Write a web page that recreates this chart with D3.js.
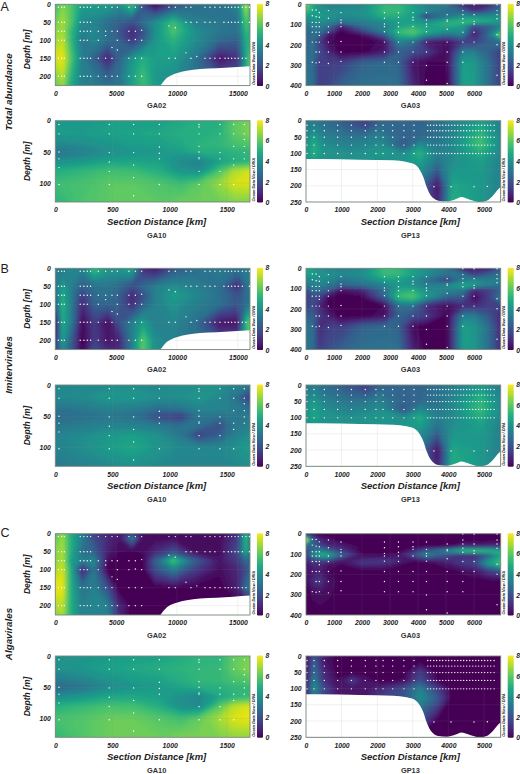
<!DOCTYPE html>
<html>
<head>
<meta charset="utf-8">
<script src="https://cdn.jsdelivr.net/npm/d3@7"></script>
<style>
  html, body { margin: 0; background: #fff; }
  svg { display: block; }
  text { font-family: "Liberation Sans", Arial, sans-serif; fill: #1c1c1c; }
  .tick text { font-size: 6.8px; font-weight: bold; font-style: italic; }
  .axis-title { font-size: 9.5px; font-weight: bold; font-style: italic; }
  .depth-title { font-size: 8.5px; font-weight: bold; font-style: italic; }
  .section { font-size: 7.4px; font-weight: bold; fill: #333; }
  .group-title { font-size: 9.8px; font-weight: bold; font-style: italic; }
  .letter { font-size: 12.5px; }
  .odv { font-size: 3.9px; font-weight: bold; font-style: italic; }
</style>
</head>
<body>
<svg width="520" height="774"></svg>
<script>
const svg = d3.select("svg");

//////////// DATA ////////////

const letters = ["A", "B", "C"];
const groupNames = ["Total abundance", "Imitervirales", "Algavirales"];
const colourTicks = [0, 2, 4, 6, 8];

// section axes
const ga02Ticks = [0, 5000, 10000, 15000];
const ga03Ticks = [0, 1000, 2000, 3000, 4000, 5000, 6000];
const ga10Ticks = [0, 500, 1000, 1500];
const gp13Ticks = [0, 1000, 2000, 3000, 4000, 5000];
const ga02DepthTicks = [0, 50, 100, 150, 200];
const ga03DepthTicks = [0, 100, 200, 300, 400];
const ga10DepthTicks = [0, 50, 100];
const gp13DepthTicks = [0, 50, 100, 150, 200, 250];

// grid columns (km) and rows (m) of each section
const ga02Cols = [0, 600, 1300, 2200, 3200, 4300, 5200, 6300, 7200, 8200, 9700, 11500, 13500, 15000, 15700, 16000];
const ga02Rows = [0, 10, 50, 75, 100, 150, 200, 226];
const ga03Cols = [0, 225, 476, 800, 1250, 2000, 2800, 3300, 3820, 4300, 5040, 5600, 6000, 6500, 6950];
const ga03Rows = [0, 30, 60, 85, 105, 135, 150, 185, 235, 285, 400];
const ga10Cols = [0, 250, 470, 685, 910, 1100, 1257, 1440, 1560, 1703];
const ga10Rows = [0, 20, 40, 50, 65, 80, 100, 130];
const gp13Cols = [0, 225, 500, 900, 1300, 1665, 2100, 2750, 3200, 3700, 4100, 4900, 5470];
const gp13Rows = [0, 14, 50, 75, 100, 130, 200, 250];

// seafloor outlines [km, m]
const ga02Floor = [[8630, 226], [8880, 215], [9150, 205], [9560, 197], [9970, 192], [10790, 185], [11890, 180], [13260, 178], [14630, 175], [16000, 172]];
const gp13Floor = [[0, 118], [393, 118], [1517, 120], [2453, 122], [2828, 127], [3062, 135], [3202, 152], [3296, 173], [3390, 204], [3483, 226], [3577, 238], [3717, 246], [3951, 248], [4185, 242], [4373, 235], [4513, 239], [4700, 246], [4888, 250], [5075, 246], [5262, 229], [5375, 214], [5470, 204]];

// sample positions: [depth, stations]
const ga02Samples = [
  [8, [250, 520, 740, 2050, 2350, 2630, 2900, 3530, 4140, 4660, 5100, 6050, 6580, 7100, 9340, 9860, 10740, 11150, 12300, 12710, 13120, 13530, 13950, 14220, 14490, 14770, 15040, 15370, 15670, 15950]],
  [50, [250, 520, 740, 2050, 2350, 2630, 2900, 10740, 11150, 11630, 12300, 12710, 13120, 13860, 14220, 14490, 14770, 15040, 15370, 15950]],
  [75, [250, 520, 740, 2050, 2350, 2630, 2900, 3530, 4140, 4660, 5100, 6050, 6580]],
  [72, [7100]],
  [100, [250, 520, 740, 2050, 2350, 2630, 3530, 5100, 6050, 7100]],
  [98, [6580]],
  [87, [4140]],
  [120, [4660]],
  [127, [5100]],
  [60, [9340]],
  [65, [9860]],
  [135, [10740]],
  [145, [11630]],
  [150, [250, 520, 740, 2050, 2350, 2630, 2900, 3530, 4140, 4660, 6050, 6580, 7100, 9340, 9860, 11150, 12300, 12710, 13120, 13530, 13950, 14220, 14490, 14770, 15040, 15370, 15670]],
  [200, [250, 520, 740, 2050, 2350, 2630, 2900, 3530, 4140, 4660, 5100, 6050, 6580, 7100]],
];
// [station, depths]
const ga03Samples = [
  [225, [28, 56, 89, 110, 137, 186, 285]],
  [360, [28, 61, 89, 110, 137, 186, 235, 288]],
  [476, [40, 64, 89, 110, 137, 153, 186, 235, 285]],
  [800, [31, 69, 110, 137, 186, 235, 291]],
  [1250, [41, 77, 91, 110, 183, 235, 281]],
  [2800, [41, 69, 97, 110, 135, 186, 235, 285]],
  [3300, [41, 64, 91, 110, 137, 186, 235, 285]],
  [3820, [41, 64, 77, 110, 186, 235, 285]],
  [4300, [41, 77, 97, 110, 135, 186, 235, 301, 374]],
  [5040, [51, 77, 84, 123, 186, 235, 285, 390]],
  [5600, [2, 31, 51, 71, 91, 137, 186, 235, 285]],
  [6000, [2, 51, 84, 97, 137, 186]],
  [6820, [2, 31, 51, 71, 150, 199, 349]],
];
const ga10Samples = [
  [32, [6, 21, 50, 61, 75, 102]],
  [472, [6, 21, 51, 66, 81, 102]],
  [685, [6, 21, 51, 71, 91, 120]],
  [910, [6, 21, 42, 52, 61, 102]],
  [1257, [6, 10, 21, 41, 50, 59, 61, 81, 102]],
  [1440, [6, 21, 51, 61, 81, 102]],
  [1560, [6, 21, 41, 61, 71, 102]],
  [1653, [6, 21, 30, 41, 51, 61]],
];
const gp13Stations = [30, 225, 515, 890, 1275, 1665, 1965, 2165, 2435, 2750, 3035, 3420, 3500, 3590, 3670, 3760, 3840, 3930, 4010, 4095, 4180, 4265, 4350, 4430, 4515, 4600, 4685, 4770, 4850, 4935, 5020, 5105, 5190, 5285];
const gp13Depths = [14, 31, 51, 75, 101];
const gp13Deep = [[3595, 203], [4075, 203], [4720, 203], [5095, 202]];

// abundance grids, rows top to bottom
const totalGa02 = [
  [5.5, 6.5, 5.9, 4.5, 4.5, 4.5, 3.8, 5.4, 2.0, 0.3, 2.0, 2.8, 3.0, 3.5, 7.0, 5.0],
  [5.6, 6.6, 5.9, 4.4, 4.4, 4.3, 3.8, 5.2, 2.2, 0.8, 2.4, 3.0, 3.0, 3.5, 7.0, 5.0],
  [6.2, 7.0, 5.9, 3.8, 3.6, 3.0, 2.5, 2.0, 3.0, 4.0, 5.5, 3.5, 3.2, 3.0, 6.0, 5.0],
  [6.5, 7.0, 5.4, 3.5, 3.8, 3.0, 2.2, 1.0, 2.0, 4.0, 5.8, 4.0, 3.2, 3.0, 5.5, 5.0],
  [6.8, 7.3, 5.4, 3.2, 3.8, 3.0, 2.5, 1.3, 2.5, 4.2, 5.2, 4.0, 2.8, 2.5, 5.0, 5.0],
  [7.5, 7.8, 5.9, 3.5, 2.5, 0.8, 2.5, 4.2, 5.0, 4.5, 4.5, 3.2, 0.5, 1.2, 5.0, 6.0],
  [6.5, 7.2, 5.2, 3.5, 3.3, 2.5, 3.0, 4.6, 5.6, 4.3, 4.0, 3.0, 2.0, 2.0, 5.0, 6.0],
  [6.0, 6.8, 4.9, 3.5, 3.3, 3.0, 3.0, 4.5, 5.5, 4.5, 4.0, 3.0, 2.0, 2.0, 5.0, 6.0],
];
const imiterGa02 = [
  [3.5, 3.2, 3.8, 3.5, 5.2, 4.2, 4.2, 4.6, 1.2, 0.7, 2.2, 3.0, 3.3, 3.0, 3.4, 3.5],
  [3.5, 3.4, 3.8, 3.4, 5.2, 4.1, 4.1, 4.4, 1.4, 1.0, 2.4, 3.0, 3.3, 2.8, 3.4, 3.5],
  [3.2, 4.5, 3.5, 2.5, 3.0, 3.2, 2.8, 2.0, 2.8, 3.5, 4.0, 3.5, 3.0, 1.0, 3.0, 3.4],
  [3.0, 5.0, 3.5, 1.5, 2.8, 3.0, 2.5, 1.0, 2.0, 3.5, 4.5, 3.8, 3.0, 2.0, 3.0, 3.0],
  [2.5, 5.2, 3.5, 1.0, 2.6, 2.7, 2.5, 1.0, 2.5, 3.5, 4.2, 3.5, 3.0, 2.2, 3.0, 3.5],
  [0.3, 5.0, 3.5, 0.2, 1.5, 0.3, 2.0, 3.5, 4.5, 3.5, 3.7, 3.0, 0.5, 0.5, 5.5, 6.0],
  [1.0, 4.5, 2.5, 0.0, 1.5, 0.5, 0.8, 3.5, 6.0, 4.0, 3.5, 3.0, 2.0, 2.0, 5.0, 6.0],
  [1.5, 4.0, 2.5, 0.0, 2.0, 1.0, 1.0, 3.5, 6.0, 4.0, 3.5, 3.0, 2.0, 2.0, 5.0, 6.0],
];
const algaGa02 = [
  [5.8, 6.8, 5.0, 3.2, 1.5, 0.8, 0.5, 1.0, 0.3, 0.2, 0.2, 0.2, 0.2, 1.0, 5.0, 3.0],
  [6.0, 6.8, 5.0, 3.5, 1.8, 1.0, 0.5, 3.5, 0.4, 0.2, 0.3, 0.2, 0.3, 1.5, 5.5, 3.0],
  [6.5, 7.0, 5.0, 3.0, 2.5, 0.8, 0.2, 0.1, 0.3, 1.0, 2.0, 0.3, 0.3, 2.0, 5.0, 3.0],
  [6.5, 7.2, 4.5, 3.5, 3.8, 0.3, 0.0, 0.0, 0.0, 2.5, 5.8, 2.5, 0.5, 1.5, 3.0, 2.5],
  [7.0, 7.5, 5.0, 0.8, 3.2, 0.0, 0.0, 0.0, 0.0, 2.0, 3.5, 1.5, 0.3, 1.0, 2.0, 2.5],
  [7.8, 7.8, 5.0, 3.0, 3.5, 2.0, 0.0, 0.0, 0.0, 0.0, 0.1, 0.0, 0.0, 0.8, 3.2, 3.0],
  [7.0, 7.3, 5.0, 3.5, 3.8, 3.5, 1.0, 0.0, 0.0, 0.0, 0.0, 0.0, 0.0, 0.0, 0.0, 0.0],
  [6.5, 7.0, 5.0, 3.5, 3.5, 3.5, 1.0, 0.0, 0.0, 0.0, 0.0, 0.0, 0.0, 0.0, 0.0, 0.0],
];

const totalGa03 = [
  [6.5, 5.0, 4.0, 3.5, 3.5, 3.8, 5.2, 5.2, 4.5, 3.5, 3.2, 0.8, 0.8, 0.9, 2.5],
  [5.8, 4.8, 4.2, 4.0, 4.0, 4.0, 5.5, 5.5, 4.6, 4.0, 3.0, 2.5, 1.0, 2.0, 3.0],
  [4.2, 4.4, 4.5, 4.2, 3.8, 4.0, 5.0, 5.0, 4.5, 1.5, 3.2, 4.0, 4.0, 4.0, 4.2],
  [3.5, 4.0, 4.0, 3.8, 3.3, 3.5, 4.0, 4.5, 4.5, 4.0, 5.0, 5.5, 5.5, 5.0, 4.5],
  [3.0, 3.5, 3.5, 3.0, 1.0, 3.0, 3.5, 4.5, 5.0, 4.6, 5.0, 4.5, 2.0, 2.5, 3.5],
  [2.5, 3.0, 3.0, 2.0, 0.0, 1.5, 3.5, 5.5, 6.0, 5.0, 4.0, 4.0, 0.8, 2.5, 5.0],
  [2.5, 3.0, 2.5, 0.5, 0.0, 0.3, 2.5, 5.0, 5.5, 4.0, 3.0, 3.5, 0.7, 3.0, 6.5],
  [2.5, 3.0, 1.5, 0.3, 0.0, 0.0, 0.3, 3.5, 3.0, 0.7, 0.3, 1.5, 1.5, 2.5, 3.0],
  [2.8, 3.0, 2.0, 1.0, 0.0, 0.0, 0.7, 2.5, 2.0, 1.5, 0.2, 3.5, 3.5, 2.5, 1.5],
  [2.8, 3.0, 1.5, 1.5, 1.5, 2.5, 2.8, 2.6, 0.5, 0.2, 0.2, 4.5, 4.3, 3.0, 1.5],
  [3.0, 3.0, 1.5, 1.8, 2.5, 3.0, 3.0, 3.0, 1.0, 0.0, 0.0, 4.5, 4.5, 3.0, 1.5],
];
const imiterGa03 = [
  [5.0, 4.5, 4.0, 3.8, 3.5, 3.8, 5.5, 5.3, 4.5, 4.0, 3.2, 0.8, 0.8, 0.8, 2.2],
  [4.5, 4.5, 4.0, 4.0, 3.8, 4.0, 5.5, 5.4, 4.6, 4.0, 3.0, 3.0, 1.5, 2.5, 3.0],
  [3.5, 3.8, 4.0, 3.8, 3.0, 3.5, 4.5, 4.5, 4.0, 3.0, 1.5, 3.5, 4.0, 3.5, 3.5],
  [3.0, 3.5, 3.5, 3.2, 2.5, 3.0, 3.5, 4.3, 4.0, 3.5, 4.0, 4.8, 4.5, 3.5, 3.0],
  [2.0, 3.0, 3.0, 2.5, 0.5, 1.0, 3.0, 4.8, 5.0, 4.0, 3.5, 3.5, 1.0, 1.5, 2.5],
  [1.5, 2.0, 1.8, 0.5, 0.0, 0.3, 2.8, 5.5, 5.8, 4.5, 3.0, 2.5, 0.3, 1.5, 3.0],
  [1.5, 2.0, 1.5, 0.2, 0.0, 0.0, 2.0, 5.0, 5.5, 3.8, 2.0, 2.0, 0.3, 1.5, 3.5],
  [1.5, 2.0, 1.0, 0.2, 0.0, 0.0, 0.2, 3.0, 3.0, 1.0, 0.3, 1.0, 1.0, 1.5, 1.5],
  [2.5, 2.5, 1.5, 0.8, 0.0, 0.0, 0.5, 2.5, 2.0, 1.5, 0.0, 3.5, 3.5, 2.3, 1.0],
  [3.0, 3.0, 1.0, 1.5, 1.5, 2.5, 2.8, 2.5, 0.3, 0.0, 0.0, 4.5, 4.2, 3.0, 1.0],
  [3.0, 3.0, 1.5, 2.0, 2.5, 3.0, 3.0, 3.0, 0.8, 0.0, 0.0, 4.5, 4.3, 3.0, 1.0],
];
const algaGa03 = [
  [1.0, 0.5, 0.0, 0.0, 0.0, 0.0, 0.0, 0.0, 0.0, 0.0, 0.0, 0.0, 0.0, 0.0, 0.0],
  [8.0, 2.8, 1.0, 0.5, 0.0, 0.0, 0.0, 0.0, 0.0, 0.0, 0.0, 0.0, 0.0, 0.0, 0.0],
  [3.0, 2.5, 2.0, 1.0, 0.8, 0.0, 0.0, 0.0, 0.0, 0.0, 0.0, 1.0, 0.8, 1.0, 1.0],
  [1.5, 3.0, 3.8, 3.0, 1.5, 0.0, 0.0, 0.0, 1.0, 2.5, 4.0, 5.6, 5.8, 5.5, 5.0],
  [1.5, 3.5, 5.0, 5.0, 2.8, 0.3, 0.2, 0.5, 2.0, 3.8, 2.0, 1.0, 1.0, 2.5, 4.8],
  [1.0, 1.5, 1.5, 1.5, 0.5, 1.2, 1.5, 1.0, 0.2, 0.3, 1.0, 1.5, 1.5, 4.2, 5.4],
  [0.5, 1.0, 1.0, 0.5, 0.2, 1.1, 1.0, 0.3, 0.0, 0.0, 0.5, 1.3, 1.5, 4.2, 5.8],
  [0.5, 0.5, 0.8, 0.2, 0.0, 0.0, 0.0, 0.0, 0.0, 0.0, 0.0, 0.3, 0.5, 1.5, 2.0],
  [0.3, 1.0, 1.5, 0.5, 0.0, 0.0, 0.0, 0.0, 0.0, 0.0, 0.0, 0.0, 0.0, 0.0, 0.0],
  [0.0, 0.3, 0.5, 0.3, 0.0, 0.0, 0.0, 0.0, 0.0, 0.0, 0.0, 0.0, 0.0, 0.0, 0.0],
  [0.0, 0.0, 0.0, 0.0, 0.0, 0.0, 0.0, 0.0, 0.0, 0.0, 0.0, 0.0, 0.0, 0.0, 0.0],
];

const totalGa10 = [
  [4.3, 4.3, 4.5, 4.5, 4.5, 4.8, 5.0, 5.0, 6.0, 6.4],
  [4.5, 4.4, 4.6, 4.7, 4.8, 5.0, 5.0, 5.2, 6.0, 6.5],
  [3.6, 3.9, 4.2, 4.4, 4.5, 4.8, 5.2, 5.3, 5.6, 5.8],
  [3.1, 3.5, 4.0, 4.2, 4.3, 4.5, 5.0, 5.0, 5.2, 5.3],
  [4.0, 4.3, 4.7, 4.7, 4.6, 3.8, 3.6, 4.6, 5.0, 5.2],
  [5.0, 5.3, 5.6, 5.5, 5.0, 4.2, 4.0, 5.8, 7.0, 7.5],
  [5.5, 5.7, 6.0, 6.0, 5.8, 5.5, 6.0, 6.8, 7.5, 7.6],
  [5.2, 5.8, 6.0, 6.0, 6.0, 6.2, 6.2, 6.3, 6.5, 6.5],
];
const imiterGa10 = [
  [3.8, 3.8, 3.9, 3.9, 3.7, 3.9, 4.0, 4.0, 3.6, 3.3],
  [3.8, 3.9, 4.3, 4.3, 4.0, 4.0, 4.2, 3.8, 3.2, 1.5],
  [3.0, 3.2, 3.5, 3.3, 2.8, 3.0, 3.6, 3.6, 3.4, 3.0],
  [2.8, 3.0, 3.2, 3.0, 1.8, 1.5, 3.2, 3.0, 3.3, 3.3],
  [3.2, 3.4, 3.6, 3.6, 3.3, 3.0, 3.0, 2.0, 3.2, 3.5],
  [3.6, 3.9, 4.3, 4.5, 4.0, 3.2, 1.6, 2.5, 3.5, 4.0],
  [3.6, 4.0, 4.5, 4.8, 4.2, 3.8, 3.8, 3.8, 4.0, 4.5],
  [3.2, 3.5, 3.8, 4.0, 3.8, 3.6, 3.6, 3.6, 3.8, 4.0],
];
const algaGa10 = [
  [4.0, 4.2, 4.4, 4.5, 4.6, 4.9, 5.2, 5.2, 6.1, 6.4],
  [4.1, 4.3, 4.6, 4.8, 5.0, 5.2, 5.3, 5.4, 6.1, 6.6],
  [3.2, 3.6, 4.1, 4.4, 4.6, 5.0, 5.3, 5.4, 5.7, 5.9],
  [2.7, 3.2, 3.9, 4.2, 4.4, 4.7, 5.0, 5.1, 5.3, 5.4],
  [3.9, 4.3, 4.8, 4.8, 4.6, 4.0, 3.7, 4.8, 5.2, 5.4],
  [5.1, 5.4, 5.7, 5.6, 5.0, 4.0, 3.8, 6.0, 7.2, 7.6],
  [5.7, 5.9, 6.2, 6.2, 5.9, 5.6, 6.1, 7.0, 7.6, 7.8],
  [5.3, 5.9, 6.2, 6.2, 6.2, 6.4, 6.4, 6.5, 6.7, 6.7],
];

const totalGp13 = [
  [3.2, 3.4, 3.0, 2.5, 2.0, 1.6, 2.6, 2.6, 2.5, 3.0, 3.5, 4.5, 3.5],
  [3.3, 3.6, 3.0, 2.7, 2.2, 1.7, 2.8, 2.6, 2.6, 3.0, 3.5, 4.8, 3.5],
  [3.8, 4.6, 3.6, 3.3, 3.1, 3.2, 3.5, 2.5, 2.7, 3.0, 3.7, 5.5, 3.7],
  [4.0, 5.0, 4.0, 3.7, 3.6, 3.7, 4.0, 2.2, 4.0, 3.3, 3.8, 5.7, 3.8],
  [4.3, 5.0, 4.2, 4.2, 4.0, 4.2, 4.5, 4.0, 5.2, 3.5, 3.8, 5.0, 3.7],
  [4.0, 4.5, 4.0, 4.0, 4.0, 4.0, 4.0, 4.3, 4.5, 3.0, 4.0, 4.5, 3.5],
  [4.0, 4.5, 4.0, 4.0, 4.0, 4.0, 4.0, 4.0, 3.0, 0.5, 4.8, 4.3, 3.5],
  [4.0, 4.5, 4.0, 4.0, 4.0, 4.0, 4.0, 4.0, 3.0, 0.7, 5.0, 4.3, 3.5],
];
const imiterGp13 = [
  [3.2, 3.4, 3.0, 2.5, 2.1, 1.7, 2.6, 2.6, 2.5, 3.0, 3.4, 4.3, 3.4],
  [3.3, 3.6, 3.0, 2.7, 2.2, 1.7, 2.8, 2.6, 2.6, 3.0, 3.4, 4.6, 3.4],
  [3.7, 4.4, 3.6, 3.3, 3.1, 3.2, 3.5, 2.5, 2.7, 3.0, 3.7, 5.3, 3.7],
  [3.9, 4.7, 4.0, 3.7, 3.6, 3.7, 4.0, 2.2, 3.9, 3.3, 3.8, 5.5, 3.8],
  [4.2, 4.7, 4.2, 4.2, 4.0, 4.2, 4.4, 4.0, 5.0, 3.4, 3.8, 5.0, 3.7],
  [4.0, 4.4, 4.0, 4.0, 4.0, 4.0, 4.0, 4.3, 4.4, 3.0, 4.0, 4.5, 3.5],
  [4.0, 4.4, 4.0, 4.0, 4.0, 4.0, 4.0, 4.0, 3.0, 0.5, 4.8, 4.3, 3.5],
  [4.0, 4.4, 4.0, 4.0, 4.0, 4.0, 4.0, 4.0, 3.0, 0.7, 5.0, 4.3, 3.5],
];
const algaGp13 = [
  [0.3, 2.0, 1.0, 0.0, 0.0, 0.0, 0.0, 0.0, 0.0, 0.0, 0.0, 0.0, 0.0],
  [0.3, 2.5, 0.5, 0.0, 0.0, 0.0, 0.0, 0.0, 0.0, 0.0, 0.0, 0.0, 0.0],
  [0.4, 3.0, 1.0, 0.0, 0.0, 0.0, 0.0, 0.0, 1.5, 0.0, 0.0, 0.0, 0.0],
  [0.5, 3.5, 1.2, 0.3, 1.5, 0.5, 0.0, 0.3, 2.0, 0.2, 0.0, 0.0, 0.0],
  [1.0, 4.0, 2.0, 0.5, 0.5, 0.5, 1.0, 2.0, 3.5, 1.5, 0.0, 0.0, 0.0],
  [0.5, 3.0, 1.5, 0.5, 0.5, 0.5, 1.5, 2.0, 4.0, 2.3, 0.0, 0.0, 0.0],
  [0.0, 0.0, 0.0, 0.0, 0.0, 0.0, 0.0, 0.0, 2.0, 0.0, 0.0, 0.0, 0.0],
  [0.0, 0.0, 0.0, 0.0, 0.0, 0.0, 0.0, 0.0, 0.0, 0.0, 0.0, 0.0, 0.0],
];

//////////// SECTIONS ////////////

const gpSamples = gp13Stations.map((s) => [s, gp13Depths]).concat(gp13Deep.map(([s, d]) => [s, [d]]));
// ga02 samples are stored per depth, turn them around to [station, depths]
const ga02Points = ga02Samples.flatMap(([d, xs]) => xs.map((x) => [x, [d]]));

const sections = {
  GA02: { maxX: 16000, maxD: 226, xTicks: ga02Ticks, dTicks: ga02DepthTicks, cols: ga02Cols, rows: ga02Rows, floor: ga02Floor, samples: ga02Points },
  GA03: { maxX: 6950, maxD: 400, xTicks: ga03Ticks, dTicks: ga03DepthTicks, cols: ga03Cols, rows: ga03Rows, floor: null, samples: ga03Samples },
  GA10: { maxX: 1703, maxD: 130, xTicks: ga10Ticks, dTicks: ga10DepthTicks, cols: ga10Cols, rows: ga10Rows, floor: null, samples: ga10Samples },
  GP13: { maxX: 5470, maxD: 250, xTicks: gp13Ticks, dTicks: gp13DepthTicks, cols: gp13Cols, rows: gp13Rows, floor: gp13Floor, samples: gpSamples },
};

const leftX = [55.3, 306];
const PLOT_W = 194.7;
const PLOT_H = 81.3;
// top of the upper and lower plot in each of the three groups
const groupTops = [
  [4.3, 120.7],
  [268.3, 385],
  [533.7, 656],
];
const letterY = [10.5, 272.5, 537];
const groupTitleY = [92, 365, 634];

const grids = [
  [totalGa02, totalGa03, totalGa10, totalGp13],
  [imiterGa02, imiterGa03, imiterGa10, imiterGp13],
  [algaGa02, algaGa03, algaGa10, algaGp13],
];
const sectionOrder = ["GA02", "GA03", "GA10", "GP13"];

const colour = d3.scaleSequential(d3.interpolateViridis).domain([0, 8]);

//////////// DRAWING ////////////

const defs = svg.append("defs");
defs
  .append("filter")
  .attr("id", "soft")
  .attr("x", "-10%")
  .attr("y", "-10%")
  .attr("width", "120%")
  .attr("height", "120%")
  .append("feGaussianBlur")
  .attr("stdDeviation", 1.5);

const legendGrad = defs
  .append("linearGradient")
  .attr("id", "legend")
  .attr("x1", 0)
  .attr("x2", 0)
  .attr("y1", 1)
  .attr("y2", 0);
d3.range(0, 1.01, 0.1).forEach((t) => {
  legendGrad
    .append("stop")
    .attr("offset", t)
    .attr("stop-color", d3.interpolateViridis(t));
});

let clipCount = 0;

function drawPanel(name, grid, px, py) {
  const sec = sections[name];
  const w = PLOT_W;
  const h = PLOT_H;
  const x = d3.scaleLinear().domain([0, sec.maxX]).range([px, px + w]);
  const y = d3.scaleLinear().domain([0, sec.maxD]).range([py, py + h]);

  const clipId = "clip" + clipCount++;
  defs
    .append("clipPath")
    .attr("id", clipId)
    .append("rect")
    .attr("x", px)
    .attr("y", py)
    .attr("width", w)
    .attr("height", h);

  // field: contours of the grid, grid index mapped to screen by piecewise scales.
  // 12px of overshoot so the blur does not fade at the frame
  const nx = sec.cols.length;
  const ny = sec.rows.length;
  const ix = d3
    .scaleLinear()
    .domain([0, ...d3.range(nx).map((i) => i + 0.5), nx])
    .range([px - 12, ...sec.cols.map((c) => x(c)), px + w + 12]);
  const iy = d3
    .scaleLinear()
    .domain([0, ...d3.range(ny).map((i) => i + 0.5), ny])
    .range([py - 12, ...sec.rows.map((d) => y(d)), py + h + 12]);
  const path = d3.geoPath(
    d3.geoTransform({
      point(a, b) {
        this.stream.point(ix(a), iy(b));
      },
    }),
  );
  const contours = d3
    .contours()
    .size([nx, ny])
    .thresholds(d3.range(0, 8.01, 0.1))(grid.flat());

  const clipped = svg.append("g").attr("clip-path", `url(#${clipId})`);
  clipped
    .append("g")
    .attr("filter", "url(#soft)")
    .selectAll("path")
    .data(contours)
    .enter()
    .append("path")
    .attr("d", path)
    .attr("fill", (d) => colour(d.value));

  // seafloor mask
  if (sec.floor) {
    const area = d3
      .area()
      .x((d) => x(d[0]))
      .y0(py + h + 1)
      .y1((d) => y(d[1]))
      .curve(d3.curveMonotoneX);
    clipped.append("path").attr("d", area(sec.floor)).attr("fill", "#fff");
  }

  // faint grid
  clipped
    .append("g")
    .selectAll("line")
    .data(sec.xTicks.slice(1))
    .enter()
    .append("line")
    .attr("x1", (d) => x(d))
    .attr("x2", (d) => x(d))
    .attr("y1", py)
    .attr("y2", py + h)
    .attr("stroke", "#888")
    .attr("stroke-opacity", 0.12);
  clipped
    .append("g")
    .selectAll("line")
    .data(sec.dTicks.slice(1))
    .enter()
    .append("line")
    .attr("x1", px)
    .attr("x2", px + w)
    .attr("y1", (d) => y(d))
    .attr("y2", (d) => y(d))
    .attr("stroke", "#888")
    .attr("stroke-opacity", 0.12);

  // frame
  svg
    .append("rect")
    .attr("x", px)
    .attr("y", py)
    .attr("width", w)
    .attr("height", h)
    .attr("fill", "none")
    .attr("stroke", "#78857a")
    .attr("stroke-width", 0.9);

  // sample dots
  const dots = sec.samples.flatMap(([s, depths]) => depths.map((d) => [s, d]));
  svg
    .append("g")
    .selectAll("circle")
    .data(dots)
    .enter()
    .append("circle")
    .attr("cx", (d) => x(d[0]))
    .attr("cy", (d) => y(d[1]))
    .attr("r", 0.7)
    .attr("fill", "#fff");

  // axes
  const xAxis = svg
    .append("g")
    .attr("transform", `translate(0,${py + h})`)
    .call(d3.axisBottom(x).tickValues(sec.xTicks).tickSize(0).tickPadding(5.5).tickFormat(d3.format("d")));
  xAxis.select(".domain").remove();
  const yAxis = svg
    .append("g")
    .attr("transform", `translate(${px},0)`)
    .call(d3.axisLeft(y).tickValues(sec.dTicks).tickSize(0).tickPadding(4.5).tickFormat(d3.format("d")));
  yAxis.select(".domain").remove();

  // colour bar
  const barX = px + w + 7;
  const bar = d3.scaleLinear().domain([0, 8]).range([py + h + 0.5, py - 0.5]);
  svg
    .append("rect")
    .attr("x", barX)
    .attr("y", py - 0.5)
    .attr("width", 6)
    .attr("height", h + 1)
    .attr("rx", 1.2)
    .attr("fill", "url(#legend)");
  const barAxis = svg
    .append("g")
    .attr("transform", `translate(${barX + 6},0)`)
    .call(d3.axisRight(bar).tickValues(colourTicks).tickSize(0).tickPadding(2.5));
  barAxis.select(".domain").remove();

  svg
    .append("text")
    .attr("class", "odv")
    .attr("transform", `translate(${px + w + 4.6},${py + h - 0.5}) rotate(-90)`)
    .text("Ocean Data View / DIVA");

  return { cx: px + w / 2, bottom: py + h };
}

groupNames.forEach((groupName, g) => {
  const [topUpper, topLower] = groupTops[g];
  const tops = [topUpper, topUpper, topLower, topLower];

  sectionOrder.forEach((name, i) => {
    const px = leftX[i % 2];
    const py = tops[i];
    const { cx, bottom } = drawPanel(name, grids[g][i], px, py);
    const labelX = cx + (i % 2 === 0 ? 4 : 7);

    // depth title only on the left column
    if (i % 2 === 0) {
      const midY = g === 0 && i === 0 ? py + 45 : py + 40.5;
      svg
        .append("text")
        .attr("class", "depth-title")
        .attr("text-anchor", "middle")
        .attr("transform", `translate(${px - 25.5},${midY}) rotate(-90)`)
        .text("Depth [m]");
    }

    if (i < 2) {
      svg
        .append("text")
        .attr("class", "section")
        .attr("x", labelX)
        .attr("y", bottom + 22.5)
        .attr("text-anchor", "middle")
        .text(name);
    } else {
      svg
        .append("text")
        .attr("class", "axis-title")
        .attr("x", labelX)
        .attr("y", bottom + 22.5)
        .attr("text-anchor", "middle")
        .text("Section Distance [km]");
      svg
        .append("text")
        .attr("class", "section")
        .attr("x", labelX)
        .attr("y", bottom + 36)
        .attr("text-anchor", "middle")
        .text(name);
    }
  });

  svg
    .append("text")
    .attr("class", "letter")
    .attr("x", 0.5)
    .attr("y", letterY[g])
    .text(letters[g]);

  svg
    .append("text")
    .attr("class", "group-title")
    .attr("text-anchor", "middle")
    .attr("transform", `translate(11.5,${groupTitleY[g]}) rotate(-90)`)
    .text(groupName);
});
</script>
</body>
</html>
